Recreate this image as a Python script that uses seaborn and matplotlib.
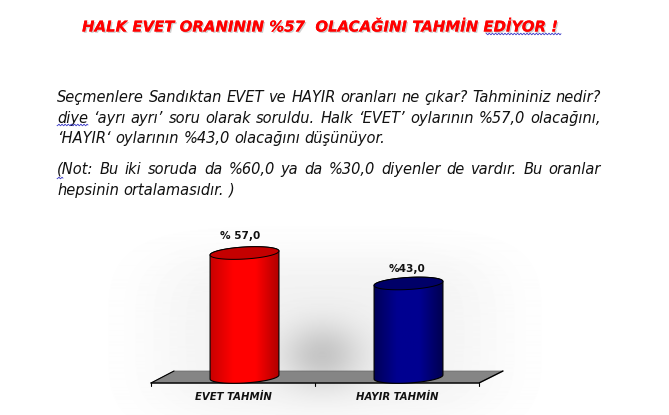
import numpy as np
import pandas as pd
import matplotlib
matplotlib.use("Agg")
import matplotlib.pyplot as plt
import matplotlib.patheffects as pe
from matplotlib.colors import LinearSegmentedColormap
from matplotlib.patches import Polygon
from matplotlib.transforms import ScaledTranslation
import seaborn as sns

# data
categories = ["EVET TAHMİN", "HAYIR TAHMİN"]
values = [57.0, 43.0]
value_labels = ["% 57,0", "%43,0"]
bar_colors = ["#ff0000", "#000080"]
top_colors = ["#c40000", "#000068"]
side_colors = [["#c80000", "#ff0000", "#ff0000", "#b00000"],
               ["#000058", "#000090", "#000090", "#000050"]]

title = "HALK EVET ORANININ %57  OLACAĞINI TAHMİN EDİYOR !"
text_lines = ["Seçmenlere Sandıktan EVET ve HAYIR oranları ne çıkar? Tahmininiz nedir?",
              "diye ‘ayrı ayrı’ soru olarak soruldu. Halk ‘EVET’ oylarının %57,0 olacağını,",
              "‘HAYIR‘ oylarının %43,0 olacağını düşünüyor.",
              "(Not: Bu iki soruda da %60,0 ya da %30,0 diyenler de vardır. Bu oranlar",
              "hepsinin ortalamasıdır. )"]
line_y = [97, 118, 138, 169, 190]
justified = [True, True, False, True, False]

sns.set_theme(style="white")
plt.rcParams["font.family"] = ["DejaVu Sans"]

W, H = 669, 415
fig = plt.figure(figsize=(W / 100, H / 100), dpi=100, facecolor="white")

# background axes works in image pixels
bg = fig.add_axes([0, 0, 1, 1], zorder=0)
bg.set_xlim(0, W)
bg.set_ylim(H, 0)
bg.axis("off")

# soft grey shadow behind the chart
xx, yy = np.meshgrid(np.arange(W), np.arange(H))
wash = 0.055 * np.exp(-((xx - 325) / 170.0) ** 4 - ((yy - 335) / 85.0) ** 4)
glow = 0.17 * np.exp(-((xx - 322) / 40.0) ** 2 - ((yy - 355) / 32.0) ** 2)
shade = 1 - wash - glow
bg.imshow(shade, cmap="gray", vmin=0, vmax=1, extent=(0, W, H, 0), aspect="auto", zorder=0)

# floor
floor = Polygon([(151, 383), (479, 383), (503, 371), (174, 371)], closed=True,
                facecolor="#858585", edgecolor="#666666", lw=0.5, zorder=1)
bg.add_patch(floor)
bg.plot([151, 479, 503], [383, 383, 371], color="black", lw=1, zorder=2)
bg.plot([151, 174], [383, 371], color="black", lw=0.8, zorder=2)
for tx in [151, 315, 479]:
    bg.plot([tx, tx], [383, 386], color="black", lw=0.8, zorder=2)

# chart axes, y=0 sits on pixel row 377
PX_UNIT = 2.175
ax_left, ax_right = 162.5, 490.5
ax_bottom, ax_top = 385, 225
ax = fig.add_axes([ax_left / W, 1 - ax_bottom / H, (ax_right - ax_left) / W, (ax_bottom - ax_top) / H], zorder=1)
ax.patch.set_alpha(0)

df = pd.DataFrame({"kategori": categories, "oran": values})
sns.barplot(data=df, x="kategori", y="oran", hue="kategori", palette=bar_colors,
            width=0.42, legend=False, ax=ax)
ylim = (-(ax_bottom - 377) / PX_UNIT, (377 - ax_top) / PX_UNIT)
bars = list(ax.patches)

# turn every bar into a cylinder
t = np.linspace(0, 2 * np.pi, 120)
semi_h = 6.0 / PX_UNIT
tilt = 2.0 / PX_UNIT
for i, bar in enumerate(bars):
    x0, w, v = bar.get_x(), bar.get_width(), bar.get_height()
    xc = x0 + w / 2
    ex = xc + w / 2 * np.cos(t)
    bar.set_visible(False)
    # lower arc of base, then up the sides along the top ellipse
    low = t[60:]
    body_x = np.r_[xc + w / 2 * np.cos(low), xc + w / 2 * np.cos(t[:60])]
    body_y = np.r_[semi_h * np.sin(low) + tilt * np.cos(low),
                   v + semi_h * np.sin(t[:60]) + tilt * np.cos(t[:60])]
    body = Polygon(np.c_[body_x, body_y], closed=True, facecolor="none", edgecolor="black", lw=0.8, zorder=4)
    ax.add_patch(body)
    cmap = LinearSegmentedColormap.from_list("silindir", side_colors[i])
    im = ax.imshow(np.linspace(0, 1, 128)[None, :], cmap=cmap, aspect="auto",
                   extent=(x0, x0 + w, -semi_h - tilt, v + semi_h + tilt), zorder=3)
    im.set_clip_path(body)
    top_y = v + semi_h * np.sin(t) + tilt * np.cos(t)
    ax.add_patch(Polygon(np.c_[ex, top_y], closed=True, facecolor=top_colors[i],
                         edgecolor="black", lw=0.7, zorder=5))

# value labels
label_shift = [-4.5, -1.5]
label_rise = [17, 14.5]
for i, bar in enumerate(bars):
    ax.annotate(value_labels[i], (bar.get_x() + bar.get_width() / 2, bar.get_height()),
                xytext=(label_shift[i] * 0.72, label_rise[i] * 0.72), textcoords="offset points",
                ha="center", va="center", fontsize=7.6, fontweight="bold", color="#111111", zorder=6)

ax.set_xlim(-0.5, 1.5)
ax.set_ylim(*ylim)
ax.set_xlabel("")
ax.set_ylabel("")
ax.set_yticks([])
ax.tick_params(axis="x", length=0, pad=5)
sns.despine(ax=ax, left=True, bottom=True)
shift = ScaledTranslation(-11.5 / 100, 0, fig.dpi_scale_trans)
for lab in ax.get_xticklabels():
    lab.set_fontsize(7.3)
    lab.set_fontweight("bold")
    lab.set_fontstyle("italic")
    lab.set_color("#111111")
    lab.set_transform(lab.get_transform() + shift)

# title with drop shadow
title_txt = bg.text(82, 27, title, fontsize=10.75, fontweight="bold", fontstyle="italic", color="#ff0000",
                    ha="left", va="center", zorder=5)
title_txt.set_path_effects([pe.withSimplePatchShadow(offset=(1, -1), shadow_rgbFace="#bbbbbb", alpha=0.7),
                            pe.Normal()])

# body text, justified word by word
renderer = fig.canvas.get_renderer()
BODY_SIZE = 10.5
left, right = 57, 601
for line, y, just in zip(text_lines, line_y, justified):
    words = line.split(" ")
    pieces = [bg.text(0, y, wd, fontsize=BODY_SIZE, fontstyle="italic", color="#111111", ha="left", va="center", zorder=5)
              for wd in words]
    widths = [p.get_window_extent(renderer).width for p in pieces]
    if just:
        gap = (right - left - sum(widths)) / (len(words) - 1)
    else:
        probe = bg.text(0, y, "a a", fontsize=BODY_SIZE, fontstyle="italic")
        probe2 = bg.text(0, y, "aa", fontsize=BODY_SIZE, fontstyle="italic")
        gap = probe.get_window_extent(renderer).width - probe2.get_window_extent(renderer).width
        probe.remove()
        probe2.remove()
    cur = left
    for p, wdt in zip(pieces, widths):
        p.set_x(cur)
        cur += wdt + gap

# spell checker squiggles
for xa, xb, ys in [(486, 561, 34), (57, 88, 125), (57, 63, 178)]:
    sx = np.arange(xa, xb + 0.5, 0.5)
    bg.plot(sx, ys + 0.8 * np.sin(sx * 2.0), color="#3a3ac8", lw=0.6, zorder=6)

bg.set_xlim(0, W)
bg.set_ylim(H, 0)
fig.savefig("out.png", dpi=100)
